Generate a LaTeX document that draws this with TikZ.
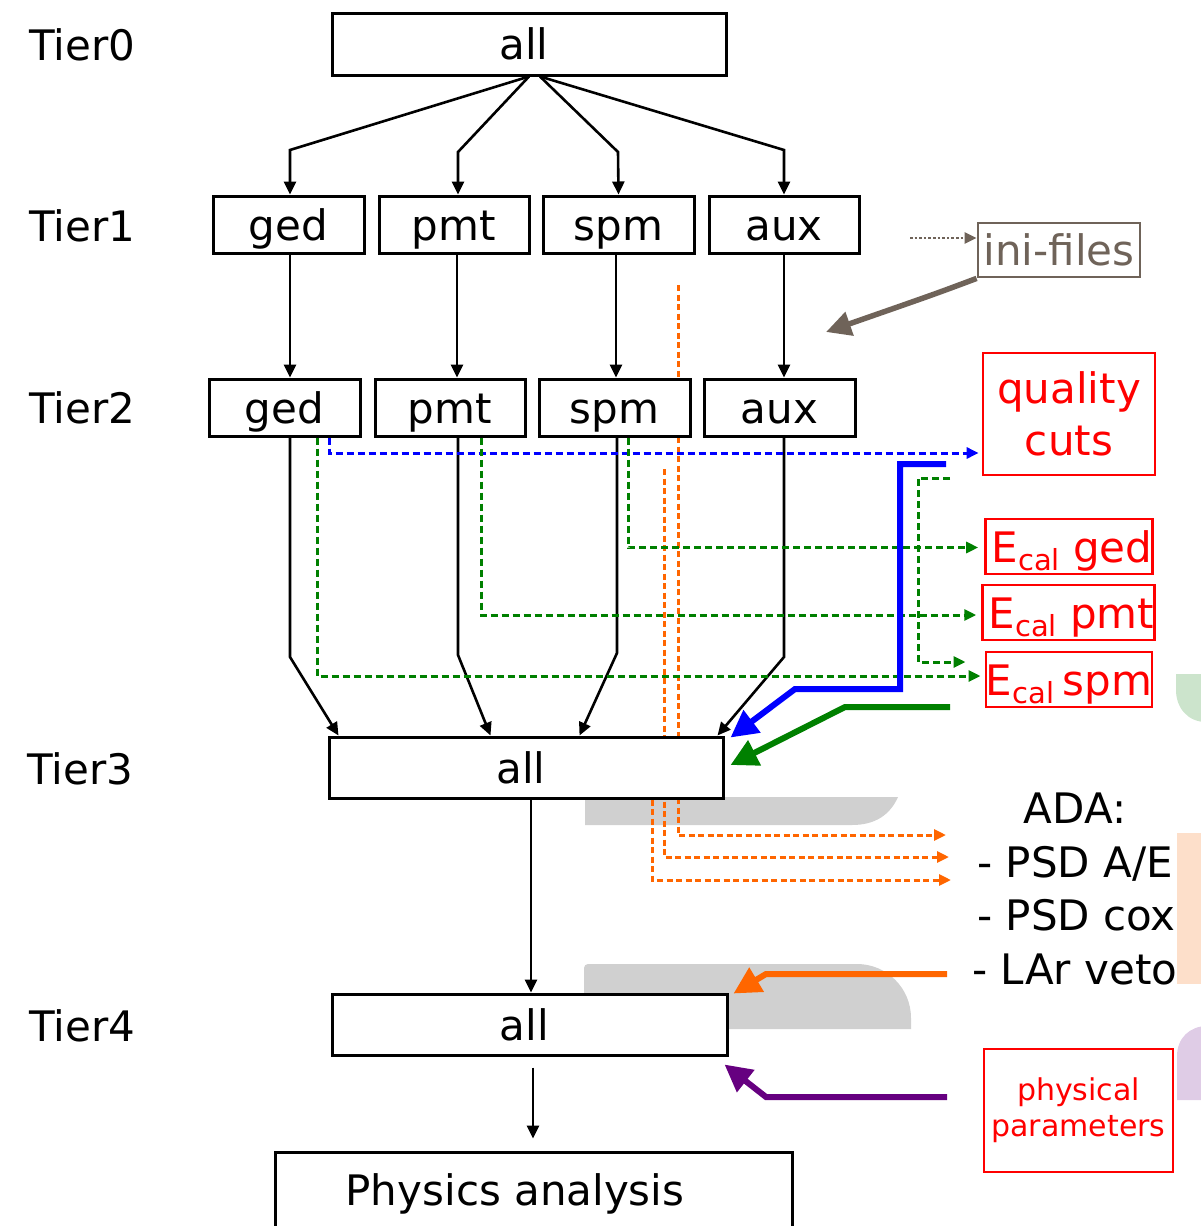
\documentclass[tikz,border=0pt]{standalone}
\usepackage{fontspec}
\setmainfont{DejaVu Sans}
\usetikzlibrary{arrows.meta,calc}
\definecolor{qred}{RGB}{255,0,0}
\definecolor{dgreen}{RGB}{0,128,0}
\definecolor{ablue}{RGB}{0,0,255}
\definecolor{aorange}{RGB}{255,102,0}
\definecolor{apurple}{RGB}{102,0,128}
\definecolor{inibrown}{RGB}{111,99,89}
\definecolor{greyback}{RGB}{208,208,208}
\definecolor{lgreen}{RGB}{204,228,204}
\definecolor{lpeach}{RGB}{253,223,202}
\definecolor{lpurple}{RGB}{223,204,230}
\pgfdeclarelayer{background}
\pgfsetlayers{background,main}

\tikzset{
  bigfont/.style={font=\fontsize{42}{52}\selectfont},
  tierlabel/.style={bigfont, anchor=base west, inner sep=0pt},
  databox/.style={draw=black, fill=white, line width=3pt, inner sep=0pt,
    bigfont, text height=31pt, text depth=0pt},
  redbox/.style={draw=qred, fill=white, line width=2.8pt, inner sep=0pt,
    text=qred, align=center},
  flow/.style={line width=2.6pt, -{Triangle[length=13pt,width=12pt]}},
  dataflow/.style={line width=3pt, dash pattern=on 7pt off 4pt,
    -{Triangle[length=12pt,width=11pt]}},
  adaflow/.style={dataflow, aorange, dash pattern=on 6pt off 3.5pt},
  feedback/.style={line width=6pt, -{Triangle[length=27pt,width=27pt]}},
}

\begin{document}
\begin{tikzpicture}[x=1pt,y=-1pt]
\useasboundingbox (0,0) rectangle (1201,1226);

% tier labels
\node[tierlabel] (L0) at (29,60) {Tier0};
\node[tierlabel] (L1) at (29,241) {Tier1};
\node[tierlabel] (L2) at (29,423) {Tier2};
\node[tierlabel] (L3) at (27,784) {Tier3};
\node[tierlabel] (L4) at (29,1041) {Tier4};

% data tiers
\node[databox, minimum width=394pt, minimum height=62pt] (t0) at (529,44) {\hspace*{-10pt}all};

\node[databox, minimum width=151pt, minimum height=57pt] (g1) at (288.5,224.5) {ged};
\node[databox, minimum width=150pt, minimum height=57pt] (p1) at (454,224.5) {pmt};
\node[databox, minimum width=151pt, minimum height=57pt] (s1) at (618.5,224.5) {spm};
\node[databox, minimum width=150pt, minimum height=57pt] (a1) at (784,224.5) {aux};

\node[databox, minimum width=151pt, minimum height=57pt] (g2) at (284.5,407.5) {ged};
\node[databox, minimum width=150pt, minimum height=57pt] (p2) at (450,407.5) {pmt};
\node[databox, minimum width=151pt, minimum height=57pt] (s2) at (614.5,407.5) {spm};
\node[databox, minimum width=151pt, minimum height=57pt] (a2) at (779.5,407.5) {aux};

\node[databox, minimum width=394pt, minimum height=61pt] (t3) at (526,767.5) {\hspace*{-10pt}all};
\node[databox, minimum width=395pt, minimum height=61pt] (t4) at (529.5,1024.5) {\hspace*{-10pt}all};
\node[databox, minimum width=517pt, minimum height=76pt] (phys) at (533.5,1190) {};
\node[bigfont, inner sep=0pt, text height=31pt, text depth=0pt] (physlabel) at (515,1190) {Physics analysis};

% parameter databases
\node[draw=inibrown, line width=2.8pt, fill=white, inner sep=0pt, text=inibrown,
  bigfont, text height=31pt, text depth=0pt,
  minimum width=162pt, minimum height=54pt] (ini) at (1059,250) {ini-files};
\node[redbox, bigfont, minimum width=172pt, minimum height=122pt] (qc) at (1069,414) {quality\\cuts};
\node[redbox, bigfont, text height=31pt, text depth=0pt, minimum width=162pt, minimum height=55pt]
  (eg) at (1069,546.5) {\hspace*{6pt}E\raisebox{-8pt}{\fontsize{29}{30}\selectfont cal} ged};
\node[redbox, bigfont, text height=31pt, text depth=0pt, minimum width=163pt, minimum height=55pt]
  (ep) at (1068.5,612.5) {\hspace*{6pt}E\raisebox{-8pt}{\fontsize{29}{30}\selectfont cal} pmt};
\node[redbox, bigfont, text height=31pt, text depth=0pt, minimum width=162pt, minimum height=55pt]
  (es) at (1069,679.5) {E\raisebox{-8pt}{\fontsize{29}{30}\selectfont cal}\hspace{0.2em}spm};
\node[redbox, font=\fontsize{30}{36}\selectfont, minimum width=189pt, minimum height=123pt]
  (pp) at (1078.5,1110.5) {physical\\parameters};

% ADA list
\node[bigfont, anchor=base, inner sep=0pt] (ada) at (1075,823) {ADA:};
\node[bigfont, anchor=base west, inner sep=0pt] (ada1) at (977,877) {- PSD A/E};
\node[bigfont, anchor=base west, inner sep=0pt] (ada2) at (977,930) {- PSD cox};
\node[bigfont, anchor=base west, inner sep=0pt] (ada3) at (972,984) {- LAr veto};

% backdrops and the ADA data paths, behind the boxes
\begin{pgfonlayer}{background}
  \fill[greyback] (585,797) -- (898,797) .. controls (890,815) and (875,825) .. (852,825)
    -- (585,825) -- cycle;
  \fill[greyback] (584,1029) -- (584,968) [rounded corners=4pt] -- (584,964) [sharp corners]
    -- (857,964) arc[start angle=90, end angle=0, radius=54pt] -- (911,1029) -- cycle;
  \fill[lgreen] (1176,674) -- (1176,690) .. controls (1176,708) and (1188,722) .. (1206,722)
    -- (1206,674) -- cycle;
  \fill[lpeach] (1177,833) rectangle (1206,984);
  \fill[lpurple] (1177,1100) -- (1177,1056) .. controls (1177,1038) and (1190,1026) .. (1207,1026)
    -- (1207,1100) -- cycle;

  \coordinate (o1) at (678,285);
  \coordinate (o2) at (664,469);
  \draw[adaflow] (o1) -- (678,835) -- (946,835);
  \draw[adaflow] (o2) -- (664,857) -- (949,857);
  \draw[adaflow] ([xshift=126pt]t3.south) -- (652,880) -- (951,880);
\end{pgfonlayer}

% Tier0 -> Tier1
\draw[flow] ([xshift=0pt]t0.south) -- (290,150) -- ([xshift=1.5pt]g1.north);
\draw[flow] ([xshift=0pt]t0.south) -- (458,152) -- ([xshift=4pt]p1.north);
\draw[flow] ([xshift=11pt]t0.south) -- (618,152) -- ([xshift=0pt]s1.north);
\draw[flow] ([xshift=11pt]t0.south) -- (784,150) -- ([xshift=0pt]a1.north);

% Tier1 -> Tier2
\draw[flow] ([xshift=1.5pt]g1.south) -- ([xshift=5.5pt]g2.north);
\draw[flow] ([xshift=3pt]p1.south) -- ([xshift=7pt]p2.north);
\draw[flow] ([xshift=-2.5pt]s1.south) -- ([xshift=1.5pt]s2.north);
\draw[flow] ([xshift=0pt]a1.south) -- ([xshift=4.5pt]a2.north);

% Tier2 -> Tier3
\draw[flow] ([xshift=5.5pt]g2.south) -- (290,657) -- ([xshift=11pt]t3.north west);
\draw[flow] ([xshift=8pt]p2.south) -- (458,655) -- ([xshift=163pt]t3.north west);
\draw[flow] ([xshift=2.5pt]s2.south) -- (617,653) -- ([xshift=252pt]t3.north west);
\draw[flow] ([xshift=4.5pt]a2.south) -- (784,657) -- ([xshift=-7pt]t3.north east);

% Tier3 -> Tier4 -> analysis
\draw[flow] ([xshift=5pt]t3.south) -- ([xshift=1.5pt]t4.north);
\draw[flow] ([xshift=3.5pt,yshift=-11pt]t4.south) -- ([xshift=-0.5pt,yshift=12pt]phys.north);

% calibration data paths
\draw[dataflow, ablue] ([xshift=44.5pt]g2.south) |- ([xshift=-3pt,yshift=-39pt]qc.west);
\draw[dataflow, dgreen] ([xshift=32.5pt]g2.south) |- ([xshift=-4pt,yshift=3.5pt]es.west);
\draw[dataflow, dgreen] ([xshift=31pt]p2.south) |- ([xshift=-5pt,yshift=-2.5pt]ep.west);
\draw[dataflow, dgreen] ([xshift=13.5pt]s2.south) |- ([xshift=-6pt,yshift=-1pt]eg.west);
\coordinate (gq) at (950,478);
\draw[dataflow, dgreen] (gq) -- (918,478) -- (918,662) -- ([xshift=-19pt,yshift=17.5pt]es.west);

% parameter feedback into the tiers
\coordinate (fb) at (946,464);
\coordinate (fg) at (950,707);
\coordinate (fo) at (947,974);
\coordinate (fp) at (947,1097);
\draw[feedback, ablue] (fb) -- (900,464) -- (900,689) -- (795,689) -- ([xshift=6pt,yshift=-2pt]t3.north east);
\draw[feedback, dgreen] (fg) -- (845,707) -- ([xshift=6pt,yshift=2.5pt]t3.east);
\draw[feedback, aorange] (fo) -- (766,974) -- ([xshift=5pt,yshift=-1pt]t4.north east);
\draw[feedback, apurple] (fp) -- (766,1097) -- ([xshift=-4pt,yshift=-8pt]t4.south east);

% ini-files
\coordinate (iniin) at (910,238);
\coordinate (iniout) at (826,332);
\draw[inibrown, line width=2.6pt, dotted, -{Triangle[length=12pt,width=11pt]}] (iniin) -- ([yshift=12pt]ini.west);
\draw[inibrown, line width=5.5pt, -{Triangle[length=25pt,width=24pt]}] (ini.south west) .. controls (935,294) .. (iniout);

\end{tikzpicture}
\end{document}
